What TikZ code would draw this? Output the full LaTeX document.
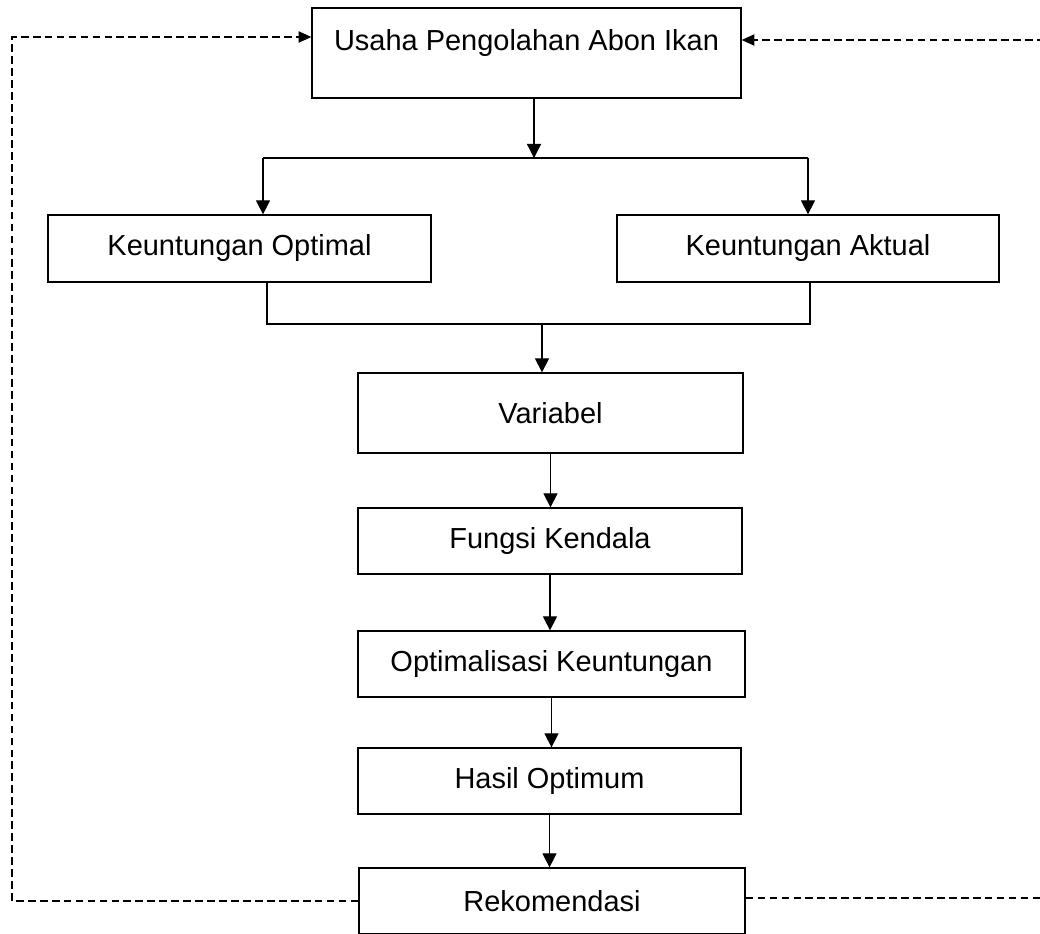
\documentclass[tikz,border=0pt]{standalone}
\usepackage{fontspec}
\setmainfont{Liberation Sans}
\usetikzlibrary{arrows.meta,positioning,calc}

\begin{document}
\begin{tikzpicture}[x=0.025cm,y=-0.025cm,
  box/.style={draw, line width=0.9pt, inner sep=0pt, align=center, font=\fontsize{20.6}{24}\selectfont},
  arr/.style={line width=0.9pt, -{Triangle[length=10pt,width=10pt]}},
  fb/.style={line width=0.8pt, dash pattern=on 5.5pt off 3pt},
  fbarr/.style={fb, -{Triangle[length=9pt,width=8pt]}}]
\useasboundingbox (0,0) rectangle (1040,934);
\clip (0,0) rectangle (1040,934);
% Boxes
\node[box, minimum width=10.725cm, text height=1.05cm, text depth=1.2cm] (usaha) at (526.5,53) {Usaha Pengolahan Abon Ikan};
\node[box, minimum width=9.575cm, minimum height=1.675cm] (ko) at (239.5,248.5) {Keuntungan Optimal};
\node[box, minimum width=9.55cm, minimum height=1.675cm] (ka) at (808,248.5) {Keuntungan Aktual};
\node[box, minimum width=9.625cm, minimum height=2cm] (var) at (550.5,413) {Variabel};
\node[box, minimum width=9.6cm, minimum height=1.65cm] (fk) at (550,541) {Fungsi Kendala};
\node[box, minimum width=9.675cm, minimum height=1.65cm] (opt) at (551.5,664) {Optimalisasi Keuntungan};
\node[box, minimum width=9.575cm, minimum height=1.65cm] (hasil) at (549.5,781) {Hasil Optimum};
\node[box, minimum width=9.65cm, minimum height=1.65cm] (rek) at (552,901) {Rekomendasi};
% Split after first box
\coordinate (sl) at (263,158);
\coordinate (sm) at (534,158);
\coordinate (sr) at (808,158);
\draw[arr] (sm |- usaha.south) -- (sm);
\draw[line width=0.9pt] (sl) -- (sr);
\draw[arr] (sl) -- (sl |- ko.north);
\draw[arr] (sr) -- (sr |- ka.north);
% Join of both profits
\coordinate (jl) at (267,324);
\coordinate (jm) at (542,324);
\coordinate (jr) at (810,324);
\draw[line width=0.9pt] (jl |- ko.south) -- (jl) -- (jr) -- (jr |- ka.south);
\draw[arr] (jm) -- (jm |- var.north);
% Main chain
\draw[arr] (var.south) -- (var.south |- fk.north);
\draw[arr] (fk.south) -- (fk.south |- opt.north);
\draw[arr] (opt.south) -- (opt.south |- hasil.north);
\draw[arr] (hasil.south) -- (hasil.south |- rek.north);
% Feedback loops
\coordinate (bl) at (12,901);
\coordinate (tl) at (12,37);
\coordinate (br) at (1046,898);
\coordinate (tr) at (1046,40);
\draw[fbarr] (rek.west) -- (bl) -- (tl) -- (tl -| usaha.west);
\draw[fbarr] (rek.east |- br) -- (br) -- (tr) -- (tr -| usaha.east);
\end{tikzpicture}
\end{document}
